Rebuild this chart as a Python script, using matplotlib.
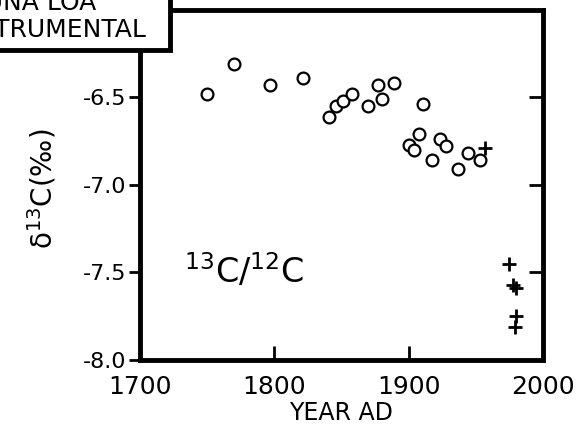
import matplotlib.pyplot as plt
from matplotlib.patches import Rectangle

plt.rcParams["font.family"] = ["DejaVu Sans"]
plt.rcParams["mathtext.default"] = "regular"

# tree-ring / ice-core data (open circles)
years_circ = [1750, 1770, 1797, 1821, 1841, 1846, 1851, 1858, 1870, 1877, 1880, 1889,
              1911, 1900, 1904, 1908, 1917, 1923, 1928, 1937, 1944, 1953]
d13c_circ = [-6.48, -6.31, -6.43, -6.39, -6.61, -6.55, -6.52, -6.48, -6.55, -6.43, -6.51, -6.42,
             -6.54, -6.77, -6.80, -6.71, -6.86, -6.74, -6.78, -6.91, -6.82, -6.86]

# instrumental (plus signs)
years_plus = [1957, 1975, 1978, 1980, 1980, 1979]
d13c_plus = [-6.79, -7.45, -7.57, -7.59, -7.75, -7.81]

xticks = [1700, 1800, 1900, 2000]
yticks = [-8.0, -7.5, -7.0, -6.5]

fig = plt.figure(figsize=(5.8, 4.33), dpi=100)
ax = fig.add_axes([0.2414, 0.1686, 0.6948, 0.8084])

ax.plot(years_circ, d13c_circ, "o", ms=8.5, mfc="white", mec="black", mew=1.6)
ax.plot(years_plus, d13c_plus, "+", ms=10, color="black", mew=2)

ax.set_xlim(1700, 2000)
ax.set_ylim(-8.0, -6.0)
ax.set_xticks(xticks)
ax.set_yticks(yticks)
ax.set_xticklabels([str(t) for t in xticks], fontsize=18)
ax.set_yticklabels(["-8.0", "-7.5", "-7.0", "-6.5"], fontsize=16)

for s in ax.spines.values():
    s.set_linewidth(3.5)

ax.tick_params(axis="x", direction="in", length=10, width=2, pad=11)
ax.tick_params(axis="y", direction="out", length=8, width=2, pad=2)

# right side ticks pointing inward
ax2 = ax.twinx()
ax2.set_ylim(ax.get_ylim())
ax2.set_yticks([-7.5, -7.0, -6.5])
ax2.set_yticklabels([])
ax2.tick_params(axis="y", direction="in", length=10, width=2)
for s in ax2.spines.values():
    s.set_visible(False)

ax.set_xlabel("YEAR AD", fontsize=17, labelpad=1)

fig.text(0.073, 0.565, "δ$^{13}$C(‰)", rotation=90, fontsize=20,
         ha="center", va="center")

ax.text(1733, -7.56, "$^{13}$C/$^{12}$C", fontsize=24, ha="left", va="baseline")

# cropped legend box at top-left
fig.patches.append(Rectangle((-0.2, 1 - 50 / 433), 0.2 + 170 / 580, 0.3,
                             transform=fig.transFigure, facecolor="white",
                             edgecolor="black", linewidth=3.5, zorder=5,
                             clip_on=False))
fig.text(96 / 580, 1 - 10 / 433, "MAUNA LOA", fontsize=18, ha="right",
         va="baseline", zorder=6)
fig.text(146 / 580, 1 - 37 / 433, "INSTRUMENTAL", fontsize=18, ha="right",
         va="baseline", zorder=6)

fig.savefig("out.png", dpi=100)
